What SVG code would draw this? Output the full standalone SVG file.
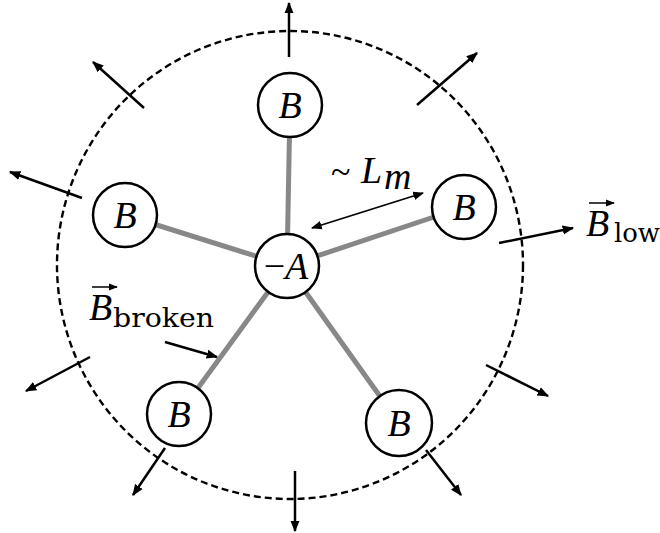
<svg xmlns="http://www.w3.org/2000/svg" width="660" height="533" viewBox="0 0 660 533">
<defs>
<marker id="ah" viewBox="0 0 10 10" refX="9" refY="5" markerWidth="4.6" markerHeight="4.6" orient="auto-start-reverse" markerUnits="strokeWidth">
<path d="M0,1 L10,5 L0,9 Z" fill="#000"/>
</marker>
<marker id="ah2" viewBox="0 0 10 10" refX="9" refY="5" markerWidth="6" markerHeight="6" orient="auto-start-reverse" markerUnits="strokeWidth">
<path d="M0,1 L10,5 L0,9 Z" fill="#000"/>
</marker>
</defs>
<style>
.node{fill:#fff;stroke:#000;stroke-width:2.5}
.bond{stroke:#888;stroke-width:5;fill:none}
.flux{stroke:#000;stroke-width:2.5;fill:none;marker-end:url(#ah)}
.it{font-family:"Liberation Serif",serif;font-style:italic;font-size:38px}
.sub{font-family:"DejaVu Serif",serif;font-size:26px}
</style>
<rect width="660" height="533" fill="#fff"/>
<ellipse cx="290" cy="265" rx="233" ry="234" fill="none" stroke="#000" stroke-width="2.4" stroke-dasharray="7 4"/>
<g id="connectors">
<line class="bond" x1="287" y1="266" x2="290" y2="105"/>
<line class="bond" x1="287" y1="266" x2="464" y2="207"/>
<line class="bond" x1="287" y1="266" x2="125" y2="215"/>
<line class="bond" x1="287" y1="266" x2="179" y2="414"/>
<line class="bond" x1="287" y1="266" x2="399" y2="423"/>
<line class="flux" x1="289" y1="57" x2="289" y2="3"/>
<line class="flux" x1="417" y1="105" x2="477" y2="53"/>
<line class="flux" x1="144" y1="108" x2="93" y2="62"/>
<line class="flux" x1="82" y1="198" x2="10" y2="172"/>
<line class="flux" x1="499" y1="243" x2="573" y2="228"/>
<line class="flux" x1="90" y1="357" x2="26" y2="391"/>
<line class="flux" x1="165" y1="448" x2="133" y2="495"/>
<line class="flux" x1="295" y1="471" x2="295" y2="531"/>
<line class="flux" x1="426" y1="450" x2="461" y2="495"/>
<line class="flux" x1="486" y1="365" x2="548" y2="396"/>
<line x1="312" y1="228" x2="423" y2="193" stroke="#000" stroke-width="1.8" marker-start="url(#ah2)" marker-end="url(#ah2)"/>
<line class="flux" x1="165" y1="342" x2="217" y2="357" stroke-width="2"/>
</g>
<g id="nodeA"><circle class="node" cx="287" cy="266" r="32"/><text x="286" y="279" text-anchor="middle" class="it"><tspan font-style="normal">−</tspan>A</text></g>
<g id="nodeB1"><circle class="node" cx="290" cy="105" r="32"/><text x="290" y="118" text-anchor="middle" class="it">B</text></g>
<g id="nodeB2"><circle class="node" cx="464" cy="207" r="32"/><text x="464" y="220" text-anchor="middle" class="it">B</text></g>
<g id="nodeB3"><circle class="node" cx="125" cy="215" r="32"/><text x="125" y="228" text-anchor="middle" class="it">B</text></g>
<g id="nodeB4"><circle class="node" cx="179" cy="414" r="32"/><text x="179" y="427" text-anchor="middle" class="it">B</text></g>
<g id="nodeB5"><circle class="node" cx="399" cy="423" r="33"/><text x="399" y="436" text-anchor="middle" class="it">B</text></g>
<g id="labelLm">
<text x="331" y="184" font-family="Liberation Serif,serif" font-size="36px">~</text>
<text x="361" y="183" class="it">L</text>
<text x="384" y="189" class="it" font-size="26px">m</text>
</g>
<g id="labelBlow">
<text x="586" y="236" class="it">B</text>
<line x1="589" y1="203" x2="614" y2="203" stroke="#000" stroke-width="1.5" marker-end="url(#ah2)"/>
<text x="614" y="242" class="sub" textLength="46" lengthAdjust="spacingAndGlyphs">low</text>
</g>
<g id="labelBbroken">
<text x="89" y="320" class="it">B</text>
<line x1="92" y1="287" x2="117" y2="287" stroke="#000" stroke-width="1.5" marker-end="url(#ah2)"/>
<text x="113" y="327" class="sub" textLength="101" lengthAdjust="spacingAndGlyphs">broken</text>
</g>
</svg>
